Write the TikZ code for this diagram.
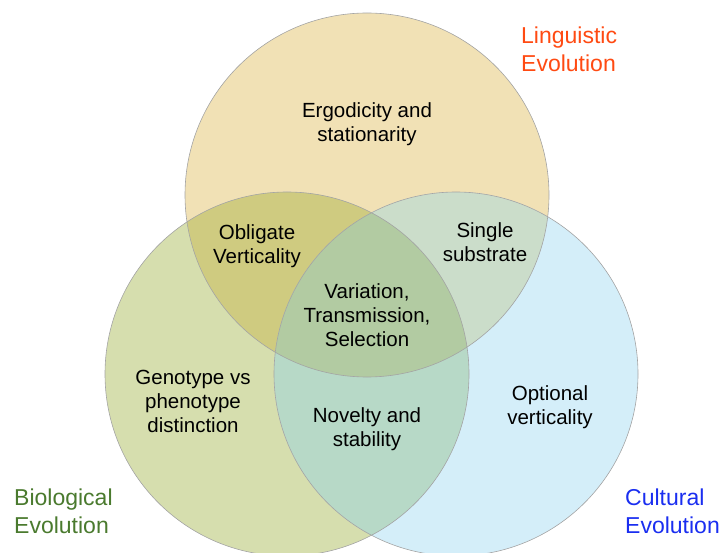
\documentclass[tikz,border=0pt]{standalone}
\usepackage{fontspec}
\setmainfont{Liberation Sans}
\usetikzlibrary{positioning}
\definecolor{lingfill}{HTML}{F1E1B5}
\definecolor{biofill}{HTML}{D6DEAE}
\definecolor{cultfill}{HTML}{D4EEF9}
\definecolor{lingbio}{HTML}{CFCB80}
\definecolor{lingcult}{HTML}{CBDDCA}
\definecolor{biocult}{HTML}{B7D9C7}
\definecolor{allthree}{HTML}{B2CBA2}
\definecolor{rimgray}{HTML}{A4A4A4}
\definecolor{lingtext}{HTML}{FF4A12}
\definecolor{biotext}{HTML}{4A7A2E}
\definecolor{culttext}{HTML}{1A2EF0}
\newcommand{\lingcirc}{(367,357) circle (182pt)}
\newcommand{\biocirc}{(287,178) circle (182pt)}
\newcommand{\cultcirc}{(456,178) circle (182pt)}

\begin{document}
\begin{tikzpicture}[x=1pt, y=1pt,
    region/.style={align=center, inner sep=0pt, font=\fontsize{20.5}{24}\selectfont},
    title/.style={align=left, anchor=west, inner sep=0pt, font=\fontsize{23}{28}\selectfont},
    rim/.style={draw=rimgray, line width=0.6pt}]
    \useasboundingbox (0,0) rectangle (722,552);

    % the three sets
    \fill[lingfill] \lingcirc;
    \fill[biofill] \biocirc;
    \fill[cultfill] \cultcirc;

    % overlaps
    \begin{scope}
        \clip \lingcirc;
        \fill[lingbio] \biocirc;
        \fill[lingcult] \cultcirc;
    \end{scope}
    \begin{scope}
        \clip \biocirc;
        \fill[biocult] \cultcirc;
        \clip \cultcirc;
        \fill[allthree] \lingcirc;
    \end{scope}

    \draw[rim] \lingcirc;
    \draw[rim] \biocirc;
    \draw[rim] \cultcirc;

    \node[region] (erg) at (367,428) {Ergodicity and\\stationarity};
    \node[region] (oblig) at (257,306) {Obligate\\Verticality};
    \node[region] (single) at (485,310) {Single\\substrate};
    \node[region] (var) at (367,237) {Variation,\\Transmission,\\Selection};
    \node[region] (geno) at (193,151) {Genotype vs\\phenotype\\distinction};
    \node[region] (novel) at (367,123) {Novelty and\\stability};
    \node[region] (opt) at (550,145) {Optional\\verticality};

    \node[title, text=lingtext] (ling) at (521,502.5) {Linguistic\\Evolution};
    \node[title, text=biotext] (bio) at (14,41) {Biological\\Evolution};
    \node[title, text=culttext] (cult) at (625,41) {Cultural\\Evolution};
\end{tikzpicture}
\end{document}
